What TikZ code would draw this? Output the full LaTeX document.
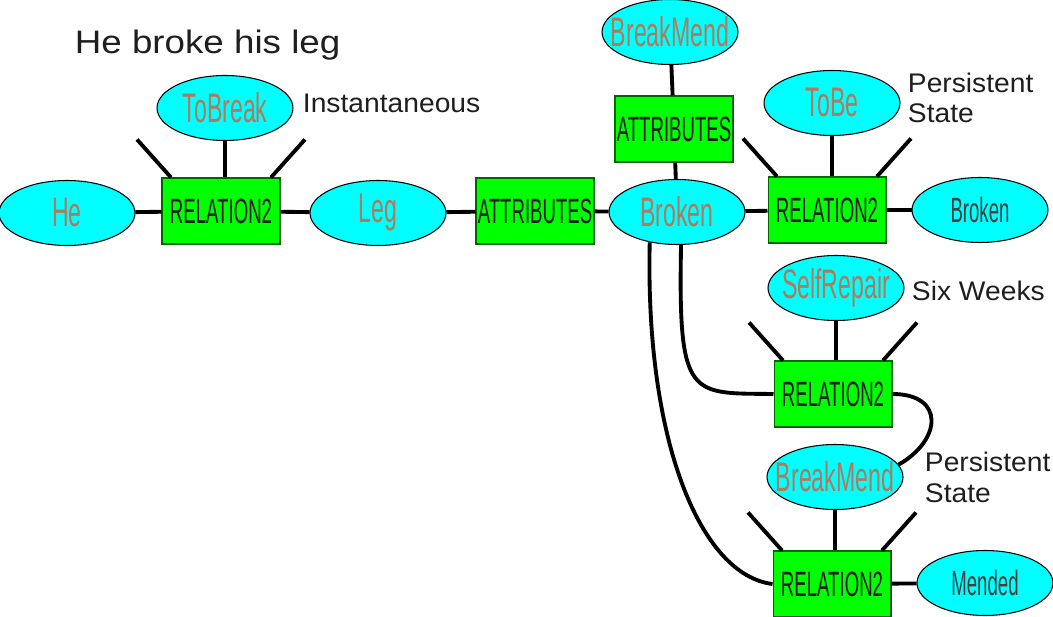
\documentclass[tikz,border=0pt]{standalone}
\usepackage{fontspec}
\setmainfont{Liberation Sans}
\newfontfamily\conceptfamily[FakeStretch=0.56]{Liberation Sans}
\newfontfamily\boxfamily[FakeStretch=0.53]{Liberation Sans}
\newfontfamily\notefamily[FakeStretch=1.05]{Liberation Sans}
\newfontfamily\titlefamily[FakeStretch=1.13]{Liberation Sans}
\usetikzlibrary{shapes.geometric}
\definecolor{conceptcyan}{RGB}{0,255,255}
\definecolor{relgreen}{RGB}{0,255,0}
\definecolor{labelbrown}{RGB}{178,122,92}
\definecolor{typegray}{RGB}{64,64,64}
\definecolor{inkgray}{RGB}{30,30,30}

\begin{document}
\begin{tikzpicture}[x=0.02cm, y=-0.02cm, line width=2.2pt,
    concept/.style={ellipse, draw=black, line width=0.6pt, fill=conceptcyan,
      minimum width=2.72cm, minimum height=1.3cm, inner xsep=-8mm, inner ysep=0pt,
      text=labelbrown, font=\conceptfamily\fontsize{23.5}{26}\selectfont},
    typeval/.style={concept, text=typegray, font=\boxfamily\fontsize{20}{23}\selectfont},
    relbox/.style={rectangle, draw=black!60!green, line width=0.6pt, fill=relgreen,
      minimum width=2.36cm, minimum height=1.32cm, inner sep=0pt,
      text=inkgray, font=\boxfamily\fontsize{20}{23}\selectfont},
    note/.style={align=left, inner sep=0pt, anchor=base west, text=inkgray,
      font=\notefamily\fontsize{15.3}{17.6}\selectfont}]
  \useasboundingbox (0,0) rectangle (1053,617);

  \node[anchor=base west, inner sep=0pt, text=inkgray,
    font=\titlefamily\fontsize{18.5}{22}\selectfont] (title) at (73,54) {He broke his leg};

  % left chain
  \node[concept] (he) at (67,213) {He};
  \node[relbox] (r1) at (221,211) {RELATION2};
  \node[concept] (tobreak) at (225,108) {ToBreak};
  \node[note] (instant) at (301,113) {Instantaneous};
  \node[concept] (leg) at (378,213) {Leg};
  \node[relbox] (a1) at (535,211) {ATTRIBUTES};

  % broken and its attributes
  \node[concept] (broken) at (677,212) {Broken};
  \node[relbox] (a2) at (674,129) {ATTRIBUTES};
  \node[concept] (bm1) at (670,32) {BreakMend};

  % persistent state
  \node[relbox] (r2) at (827,210) {RELATION2};
  \node[concept] (tobe) at (832,103) {ToBe};
  \node[note] (pstate1) at (906,123) {Persistent\\State};
  \node[typeval] (brokenval) at (980,210) {Broken};

  % self repair
  \node[relbox] (r3) at (833,394) {RELATION2};
  \node[concept] (selfrep) at (836,288) {SelfRepair};
  \node[note] (weeks) at (910,301) {Six Weeks};

  % mended
  \node[relbox] (r4) at (832,584) {RELATION2};
  \node[concept] (bm2) at (835,477) {BreakMend};
  \node[note] (pstate2) at (923,502) {Persistent\\State};
  \node[typeval] (mended) at (985,583) {Mended};

  \draw (he) -- (r1);
  \draw (r1) -- (leg);
  \draw (leg) -- (a1);
  \draw (a1) -- (broken);
  \draw (broken) -- (r2);
  \draw (r2) -- (brokenval);
  \draw (r4) -- (mended);
  \draw (bm1) -- (a2);
  \draw (a2) -- (broken);
  \draw (tobreak.south) -- (tobreak.south |- r1.north);
  \draw (tobe.south) -- (tobe.south |- r2.north);
  \draw (selfrep.south) -- (selfrep.south |- r3.north);
  \draw (bm2.south) -- (bm2.south |- r4.north);

  \foreach \r in {r1,r2,r3,r4} {
    \draw ([xshift=-1cm]\r.north) -- ++(-34,-38);
    \draw ([xshift=1cm]\r.north) -- ++(34,-38);
  }

  \draw (broken.228) .. controls (645,440) and (700,575) .. (r4.west);
  \draw (broken.277) .. controls (678,400) and (690,393) .. (r3.west);
  \draw (r3.east) .. controls (945,394) and (942,440) .. (bm2.11);
\end{tikzpicture}
\end{document}
